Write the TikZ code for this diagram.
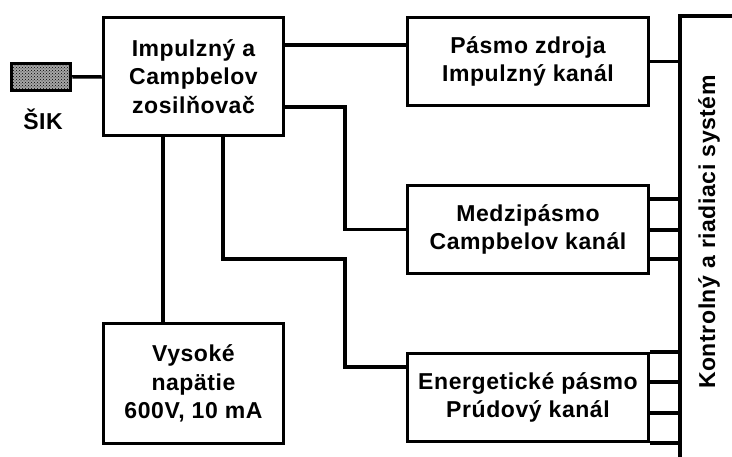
\documentclass[tikz,border=0pt]{standalone}
\usepackage{fontspec}
\setmainfont{Liberation Sans}[LetterSpace=2.5]
\usetikzlibrary{calc, positioning, patterns}

\begin{document}
\begin{tikzpicture}[
   x = 1pt, y = -1pt,
   line width = 3.5pt,
   font = \fontsize{23}{28.5}\selectfont\bfseries,
   block/.style = {draw, rectangle, align=center, inner sep=0pt},
   ampbox/.style = {block, minimum width=180pt, minimum height=118pt},
   chanbox/.style = {block, minimum width=241pt, minimum height=88pt}]
   \useasboundingbox (0,0) rectangle (732,456);

   \node[ampbox] (amp) at (193.5,76.5) {Impulzný a\\Campbelov\\zosilňovač};
   \node[ampbox, minimum height=120pt] (hv) at (193.5,383.5) {Vysoké\\napätie\\600V, 10 mA};
   \node[chanbox] (pasmo) at (528,61.5) {Pásmo zdroja\\Impulzný kanál};
   \node[chanbox] (medzi) at (528,229.5) {Medzipásmo\\Campbelov kanál};
   \node[chanbox] (energ) at (528,397.5) {Energetické pásmo\\Prúdový kanál};

   \node[block, preaction={fill=black!35}, pattern=crosshatch dots, pattern color=black,
         minimum width=59pt, minimum height=27pt] (sik) at (41,77) {};
   \node (sikl) at (43,119) {ŠIK};

   \coordinate (bus) at (680,16);
   \draw (bus -| 745,0) -- (bus) -- (680,470);
   \node[rotate=90] (busl) at (709,232) {Kontrolný a riadiaci systém};

   \draw (sik) -- (amp);
   \draw (amp.east |- 0,45) -- (pasmo.west |- 0,45);
   \draw (pasmo.east) -- (pasmo.east -| bus);
   \draw (amp.east |- 0,107) -| (345,0 |- medzi.west) -- (medzi.west);
   \draw (amp.south -| 223,0) |- (345,259) |- (energ.west |- 0,367);
   \draw (amp.south -| 163,0) -- (hv.north -| 163,0);

   \foreach \y in {199, 230, 259}
      \draw (medzi.east |- 0,\y) -- (bus |- 0,\y);
   \foreach \y in {352, 382, 413, 443}
      \draw (energ.east |- 0,\y) -- (bus |- 0,\y);
\end{tikzpicture}
\end{document}
